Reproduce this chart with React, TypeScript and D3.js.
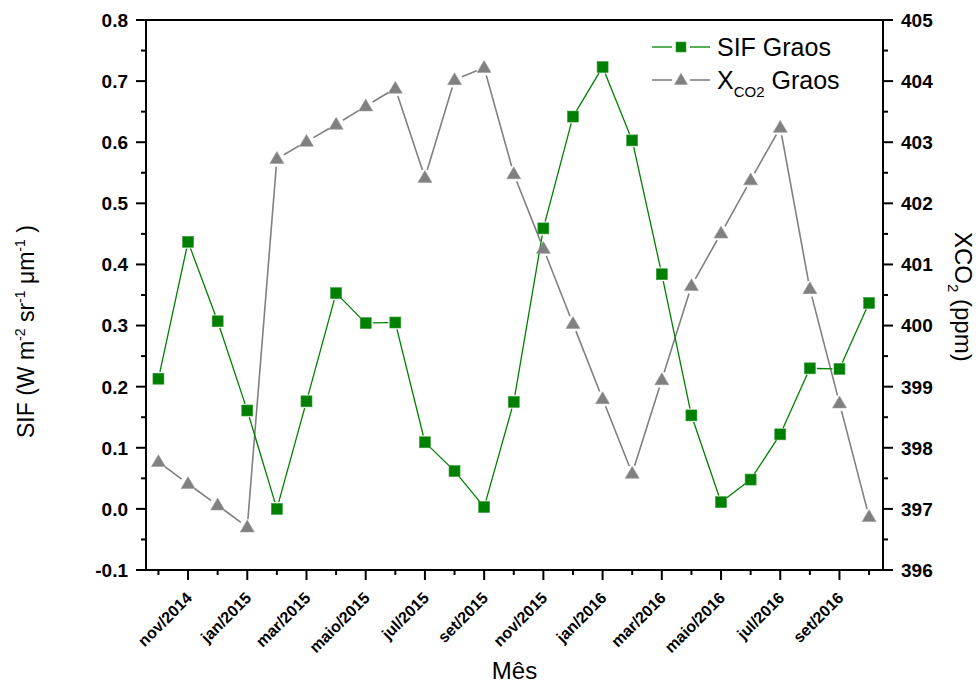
import React from "react";
import * as d3 from "d3";

// month labels, out/2014 .. out/2016
const months = [
  "out/2014", "nov/2014", "dez/2014", "jan/2015", "fev/2015", "mar/2015", "abr/2015",
  "maio/2015", "jun/2015", "jul/2015", "ago/2015", "set/2015", "out/2015", "nov/2015",
  "dez/2015", "jan/2016", "fev/2016", "mar/2016", "abr/2016", "maio/2016", "jun/2016",
  "jul/2016", "ago/2016", "set/2016", "out/2016",
];

const sifGraos = [
  0.213, 0.437, 0.307, 0.161, 0.0, 0.176, 0.353, 0.304, 0.305, 0.109, 0.062, 0.003,
  0.175, 0.459, 0.642, 0.723, 0.603, 0.384, 0.153, 0.011, 0.048, 0.122, 0.23, 0.229, 0.337,
];

const xco2Graos = [
  397.77, 397.41, 397.06, 396.7, 402.73, 403.01, 403.29, 403.59, 403.88, 402.42, 404.02,
  404.22, 402.48, 401.26, 400.03, 398.8, 397.58, 399.11, 400.65, 401.51, 402.38, 403.24,
  400.6, 398.73, 396.87,
];

const sifTicks = [-0.1, 0.0, 0.1, 0.2, 0.3, 0.4, 0.5, 0.6, 0.7, 0.8];
const xco2Ticks = [396, 397, 398, 399, 400, 401, 402, 403, 404, 405];

const FONT = "Arial, 'Liberation Sans', sans-serif";
const GREEN = "#008000";
const GREY = "#808080";

const left = 146, right = 883, top = 20, bottom = 570;

const x = d3.scaleLinear().domain([-0.42, 24.47]).range([left, right]);
const ySif = d3.scaleLinear().domain([-0.1, 0.8]).range([bottom, top]);
const yCo2 = d3.scaleLinear().domain([396, 405]).range([bottom, top]);

// Origin-style line: segments stop short of the markers
function gappedSegments(pts: [number, number][], gap: number) {
  const out: string[] = [];
  for (let i = 0; i < pts.length - 1; i++) {
    const [x1, y1] = pts[i];
    const [x2, y2] = pts[i + 1];
    const len = Math.hypot(x2 - x1, y2 - y1);
    if (len <= gap * 2) continue;
    const ux = (x2 - x1) / len, uy = (y2 - y1) / len;
    out.push(`M${x1 + ux * gap},${y1 + uy * gap}L${x2 - ux * gap},${y2 - uy * gap}`);
  }
  return out.join("");
}

function Triangle({ cx, cy, s = 14 }: { cx: number; cy: number; s?: number }) {
  const h = s * 0.85;
  return (
    <path
      d={`M${cx},${cy - h * 0.6}L${cx + s / 2},${cy + h * 0.4}L${cx - s / 2},${cy + h * 0.4}Z`}
      fill={GREY}
      stroke="#9a9a9a"
      strokeWidth={0.6}
    />
  );
}

function Square({ cx, cy, s = 11 }: { cx: number; cy: number; s?: number }) {
  return (
    <rect x={cx - s / 2} y={cy - s / 2} width={s} height={s} fill={GREEN} stroke="#3a9a3a" strokeWidth={0.6} />
  );
}

export default function App() {
  const sifPts = sifGraos.map((v, i) => [x(i), ySif(v)] as [number, number]);
  const co2Pts = xco2Graos.map((v, i) => [x(i), yCo2(v)] as [number, number]);

  const sifMinor = d3.range(-0.1, 0.8001, 0.05);
  const co2Minor = d3.range(396, 405.001, 0.5);

  return (
    <svg width={979} height={686} style={{ position: "absolute", left: 0, top: 0, background: "#fff" }} fontFamily={FONT}>
      <rect width={979} height={686} fill="#fff" />

      {/* frame */}
      <line x1={left} x2={right} y1={top} y2={top} stroke="#000" strokeWidth={2} />
      <line x1={left} x2={right} y1={bottom} y2={bottom} stroke="#000" strokeWidth={2} />
      <line x1={left} x2={left} y1={top - 1} y2={bottom + 1} stroke="#000" strokeWidth={2} />
      <line x1={right} x2={right} y1={top - 1} y2={bottom + 1} stroke="#000" strokeWidth={2} />

      {/* left axis */}
      {sifMinor.map((v, i) => (
        <line key={"lm" + i} x1={left - (i % 2 === 0 ? 10 : 5)} x2={left} y1={ySif(v)} y2={ySif(v)} stroke="#000" strokeWidth={2} />
      ))}
      {sifTicks.map((v) => (
        <text key={"lt" + v} x={left - 18} y={ySif(v)} dy="0.36em" textAnchor="end" fontSize={19} fontWeight="bold">
          {v.toFixed(1)}
        </text>
      ))}

      {/* right axis */}
      {co2Minor.map((v, i) => (
        <line key={"rm" + i} x1={right} x2={right + (i % 2 === 0 ? 10 : 5)} y1={yCo2(v)} y2={yCo2(v)} stroke="#000" strokeWidth={2} />
      ))}
      {xco2Ticks.map((v) => (
        <text key={"rt" + v} x={right + 18} y={yCo2(v)} dy="0.36em" textAnchor="start" fontSize={19} fontWeight="bold">
          {v}
        </text>
      ))}

      {/* bottom axis */}
      {months.map((m, i) => (
        <line key={"bt" + i} x1={x(i)} x2={x(i)} y1={bottom} y2={bottom + (i % 2 === 1 ? 10 : 5)} stroke="#000" strokeWidth={2} />
      ))}
      {months.map((m, i) =>
        i % 2 === 1 ? (
          <text
            key={"bl" + i}
            transform={`translate(${x(i) + 5},${bottom + 29}) rotate(-45)`}
            textAnchor="end"
            fontSize={16}
            fontWeight="bold"
          >
            {m}
          </text>
        ) : null
      )}

      {/* axis titles */}
      <text x={(left + right) / 2} y={679} textAnchor="middle" fontSize={24}>
        Mês
      </text>
      <text transform="translate(34,438) rotate(-90)" textAnchor="start" fontSize={23}>
        SIF (W m<tspan dy={-9} fontSize={14}>-2</tspan>
        <tspan dy={9}> sr</tspan>
        <tspan dy={-9} fontSize={14}>-1</tspan>
        <tspan dy={9}> μm</tspan>
        <tspan dy={-9} fontSize={14}>-1</tspan>
        <tspan dy={9}> )</tspan>
      </text>
      <text transform="translate(955,232) rotate(90)" textAnchor="start" fontSize={24}>
        XCO<tspan dy={7} fontSize={15}>2</tspan>
        <tspan dy={-7}> (ppm)</tspan>
      </text>

      {/* series */}
      <path d={gappedSegments(co2Pts, 8)} fill="none" stroke={GREY} strokeWidth={1.6} />
      <path d={gappedSegments(sifPts, 7)} fill="none" stroke={GREEN} strokeWidth={1.3} />
      {co2Pts.map(([cx, cy], i) => (
        <Triangle key={"tr" + i} cx={cx} cy={cy} />
      ))}
      {sifPts.map(([cx, cy], i) => (
        <Square key={"sq" + i} cx={cx} cy={cy} />
      ))}

      {/* legend */}
      <g>
        <line x1={652} x2={672} y1={47} y2={47} stroke={GREEN} strokeWidth={1.3} />
        <line x1={690} x2={710} y1={47} y2={47} stroke={GREEN} strokeWidth={1.3} />
        <Square cx={681} cy={47} s={10} />
        <text x={717} y={47} dy="0.36em" fontSize={25}>SIF Graos</text>

        <line x1={652} x2={672} y1={80} y2={80} stroke={GREY} strokeWidth={1.6} />
        <line x1={690} x2={710} y1={80} y2={80} stroke={GREY} strokeWidth={1.6} />
        <Triangle cx={681} cy={80} s={13} />
        <text x={717} y={80} dy="0.36em" fontSize={25}>
          X<tspan dy={8} fontSize={15}>CO2</tspan>
          <tspan dy={-8}> Graos</tspan>
        </text>
      </g>
    </svg>
  );
}
